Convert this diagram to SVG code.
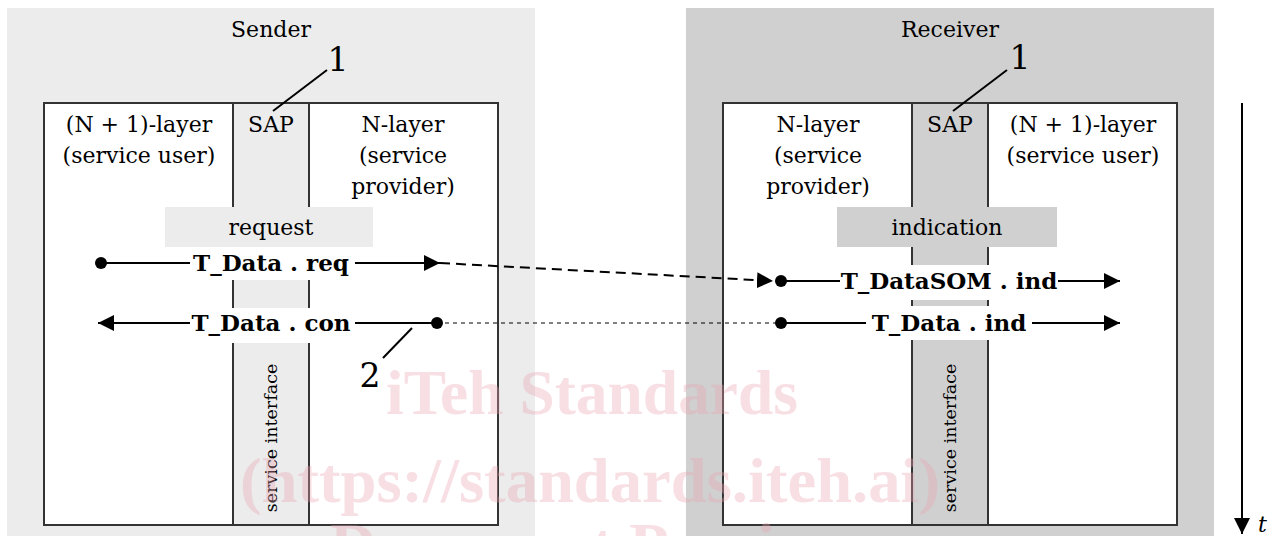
<svg xmlns="http://www.w3.org/2000/svg" width="1278" height="536" viewBox="0 0 1278 536">
<style>
text{font-family:"DejaVu Serif","Liberation Serif",serif;fill:#000}
.lbl{font-size:22px;text-anchor:middle}
.num{font-size:33px;text-anchor:middle}
.sig{font-size:23px;font-weight:bold;text-anchor:middle}
.vt{font-size:17.5px;text-anchor:middle}
.box{fill:#fff;stroke:#333;stroke-width:2}
.ln{stroke:#000;stroke-width:2;fill:none}
.wm{font-family:"Liberation Serif",serif;font-weight:bold;fill:#e7a3b3;fill-opacity:0.35;text-anchor:middle}
</style>
<defs>
<marker id="ahb" viewBox="0 0 10 10" refX="10" refY="5" markerWidth="16" markerHeight="16" markerUnits="userSpaceOnUse" orient="auto">
<path d="M0,0 L10,5 L0,10 z" fill="#000"/>
</marker>
</defs>
<rect width="1278" height="536" fill="#fff"/>
<g id="sender">
<rect x="7" y="8" width="528" height="528" fill="#ececec"/>
<text class="lbl" x="271" y="37">Sender</text>
<rect class="box" x="44" y="103" width="454" height="422"/>
<rect x="233" y="103" width="76" height="422" fill="#ececec" stroke="#333" stroke-width="2"/>
<text class="lbl" x="139" y="132">(N + 1)-layer</text>
<text class="lbl" x="139" y="163">(service user)</text>
<text class="lbl" x="271" y="132">SAP</text>
<text class="lbl" x="403" y="132">N-layer</text>
<text class="lbl" x="403" y="163">(service</text>
<text class="lbl" x="403" y="194">provider)</text>
<text class="num" x="338" y="71">1</text>
<line class="ln" x1="327" y1="70" x2="273" y2="111" stroke-width="1.3"/>
<rect x="165" y="207" width="208" height="40" fill="#ececec"/>
<text class="lbl" x="271" y="235">request</text>
<rect x="188" y="247" width="167" height="33" fill="#fff"/>
<rect x="188" y="308" width="167" height="35" fill="#fff"/>
<text class="vt" transform="translate(277,438) rotate(-90)">service interface</text>
</g>
<g id="receiver">
<rect x="686" y="8" width="528" height="528" fill="#d0d0d0"/>
<text class="lbl" x="950" y="37">Receiver</text>
<rect class="box" x="723" y="103" width="454" height="422"/>
<rect x="912" y="103" width="76" height="422" fill="#d0d0d0" stroke="#333" stroke-width="2"/>
<text class="lbl" x="818" y="132">N-layer</text>
<text class="lbl" x="818" y="163">(service</text>
<text class="lbl" x="818" y="194">provider)</text>
<text class="lbl" x="950" y="132">SAP</text>
<text class="lbl" x="1083" y="132">(N + 1)-layer</text>
<text class="lbl" x="1083" y="163">(service user)</text>
<text class="num" x="1020" y="69">1</text>
<line class="ln" x1="1007" y1="70" x2="953" y2="111" stroke-width="1.3"/>
<rect x="837" y="207" width="220" height="40" fill="#d0d0d0"/>
<text class="lbl" x="947" y="235">indication</text>
<rect x="840" y="265" width="218" height="35" fill="#fff"/>
<rect x="866" y="306" width="166" height="34" fill="#fff"/>
<text class="vt" transform="translate(956,438) rotate(-90)">service interface</text>
</g>
<g id="connectors">
<circle cx="101" cy="263" r="6"/>
<line class="ln" x1="101" y1="263" x2="190" y2="263"/>
<line class="ln" x1="355" y1="263" x2="440" y2="263" marker-end="url(#ahb)"/>
<text class="sig" x="271" y="271">T_Data . req</text>
<line class="ln" x1="440" y1="263" x2="773" y2="281" stroke-dasharray="10,6" marker-end="url(#ahb)"/>
<circle cx="781" cy="281" r="6"/>
<line class="ln" x1="781" y1="281" x2="840" y2="281"/>
<text class="sig" x="949" y="289">T_DataSOM . ind</text>
<line class="ln" x1="1058" y1="281" x2="1120" y2="281" marker-end="url(#ahb)"/>
<line class="ln" x1="190" y1="323" x2="98" y2="323" marker-end="url(#ahb)"/>
<text class="sig" x="271" y="331">T_Data . con</text>
<line class="ln" x1="355" y1="323" x2="437" y2="323"/>
<circle cx="437" cy="323" r="6"/>
<line x1="437" y1="323" x2="781" y2="323" stroke="#000" stroke-width="1.2" stroke-dasharray="4,4"/>
<circle cx="781" cy="323" r="6"/>
<line class="ln" x1="781" y1="323" x2="866" y2="323"/>
<text class="sig" x="949" y="331">T_Data . ind</text>
<line class="ln" x1="1032" y1="323" x2="1120" y2="323" marker-end="url(#ahb)"/>
<line class="ln" x1="412" y1="328" x2="383" y2="358" stroke-width="1.2"/>
<text class="num" x="370" y="387">2</text>
</g>
<g id="time">
<line class="ln" x1="1242" y1="103" x2="1242" y2="534" marker-end="url(#ahb)"/>
<text x="1258" y="532" font-size="22" font-style="italic">t</text>
</g>
<g id="watermark">
<text class="wm" x="592" y="414" font-size="64" textLength="412" lengthAdjust="spacingAndGlyphs">iTeh Standards</text>
<text class="wm" x="590" y="502" font-size="64" textLength="700" lengthAdjust="spacingAndGlyphs">(https://standards.iteh.ai)</text>
<text class="wm" x="590" y="567" font-size="64" textLength="520" lengthAdjust="spacingAndGlyphs">Document Preview</text>
</g>
</svg>
